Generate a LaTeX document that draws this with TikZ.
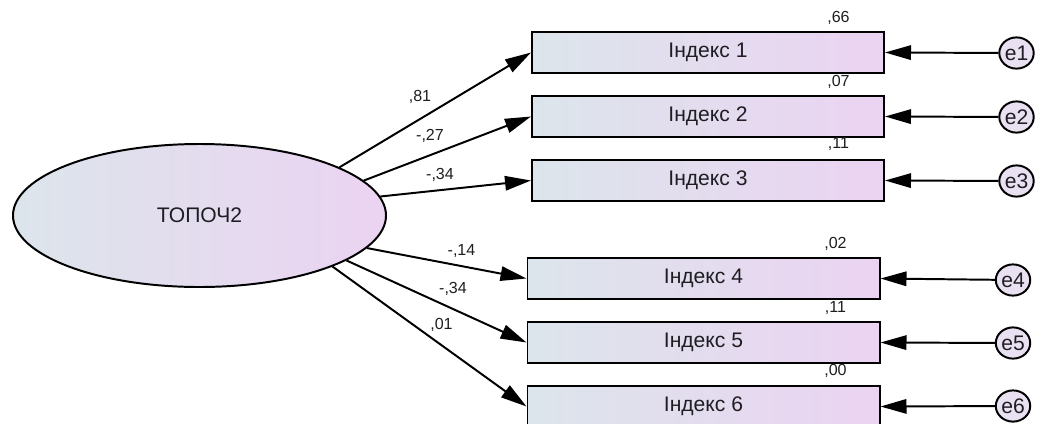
\documentclass[tikz,border=0pt]{standalone}
\usepackage{fontspec}
\setmainfont{Liberation Sans}
\usetikzlibrary{arrows.meta,shapes.geometric}

\definecolor{shadeleft}{HTML}{DCE5EB}
\definecolor{shaderight}{HTML}{EBD3F2}
\definecolor{errfill}{HTML}{E9E0F1}
\definecolor{inktext}{HTML}{1E1E22}

\tikzset{
  obs/.style={draw, line width=1.4pt, left color=shadeleft, right color=shaderight,
    minimum width=8.8cm, minimum height=1.025cm, inner sep=0pt, text=inktext,
    font=\fontsize{15}{18}\selectfont},
  latent/.style={ellipse, draw, line width=1.4pt, left color=shadeleft, right color=shaderight,
    minimum width=9.325cm, minimum height=3.575cm, inner sep=0pt, text=inktext,
    font=\fontsize{15}{18}\selectfont},
  err/.style={ellipse, draw, line width=1.4pt, fill=errfill,
    minimum width=0.86cm, minimum height=0.78cm, inner sep=0pt, text=inktext,
    font=\fontsize{15}{18}\selectfont},
  coef/.style={inner sep=0pt, text=inktext, font=\fontsize{11.4}{13}\selectfont},
  load/.style={line width=1.4pt, -{Triangle[length=0.65cm,width=0.36cm]}}
}

\begin{document}
\begin{tikzpicture}[x=0.25mm,y=-0.25mm]
    \clip (0,0) rectangle (1041,423);

    \node [latent] (top) at (199.5,215.5) {ТОПОЧ2};

    \node [obs] (b1) at (708,52.5)    {Індекс 1};
    \node [obs] (b2) at (708,116.5)   {Індекс 2};
    \node [obs] (b3) at (708,180.5)   {Індекс 3};
    \node [obs] (b4) at (703.5,278.5) {Індекс 4};
    \node [obs] (b5) at (703.5,342.5) {Індекс 5};
    \node [obs] (b6) at (703.5,406.5) {Індекс 6};

    \node [err] (e1) at (1016.5,53)  {e1};
    \node [err] (e2) at (1016.5,117) {e2};
    \node [err] (e3) at (1016.5,181) {e3};
    \node [err] (e4) at (1013,280)   {e4};
    \node [err] (e5) at (1013,343)   {e5};
    \node [err] (e6) at (1013,406)   {e6};

    \draw [load] (top.19.3)  -- (b1.west);
    \draw [load] (top.12.6)  -- (b2.west);
    \draw [load] (top.6.2)   -- (b3.west);
    \draw [load] (top.-11.8) -- (b4.west);
    \draw [load] (top.-17)   -- (b5.west);
    \draw [load] (top.-21.9) -- (b6.west);

    \draw [load] (e1) -- (b1.east);
    \draw [load] (e2) -- (b2.east);
    \draw [load] (e3) -- (b3.east);
    \draw [load] (e4) -- (b4.east);
    \draw [load] (e5) -- (b5.east);
    \draw [load] (e6) -- (b6.east);

    % loadings
    \node [coef] (w1) at (420,97)    {,81};
    \node [coef] (w2) at (430,136)   {-,27};
    \node [coef] (w3) at (440,175)   {-,34};
    \node [coef] (w4) at (461.5,251) {-,14};
    \node [coef] (w5) at (453,289)   {-,34};
    \node [coef] (w6) at (441.5,325) {,01};

    % squared multiple correlations
    \node [coef] (r1) at (838.5,18)    {,66};
    \node [coef] (r2) at (838.5,81.5)  {,07};
    \node [coef] (r3) at (838.5,144.5) {,11};
    \node [coef] (r4) at (835.5,244)   {,02};
    \node [coef] (r5) at (835.5,308.5) {,11};
    \node [coef] (r6) at (835.5,371)   {,00};
\end{tikzpicture}
\end{document}
